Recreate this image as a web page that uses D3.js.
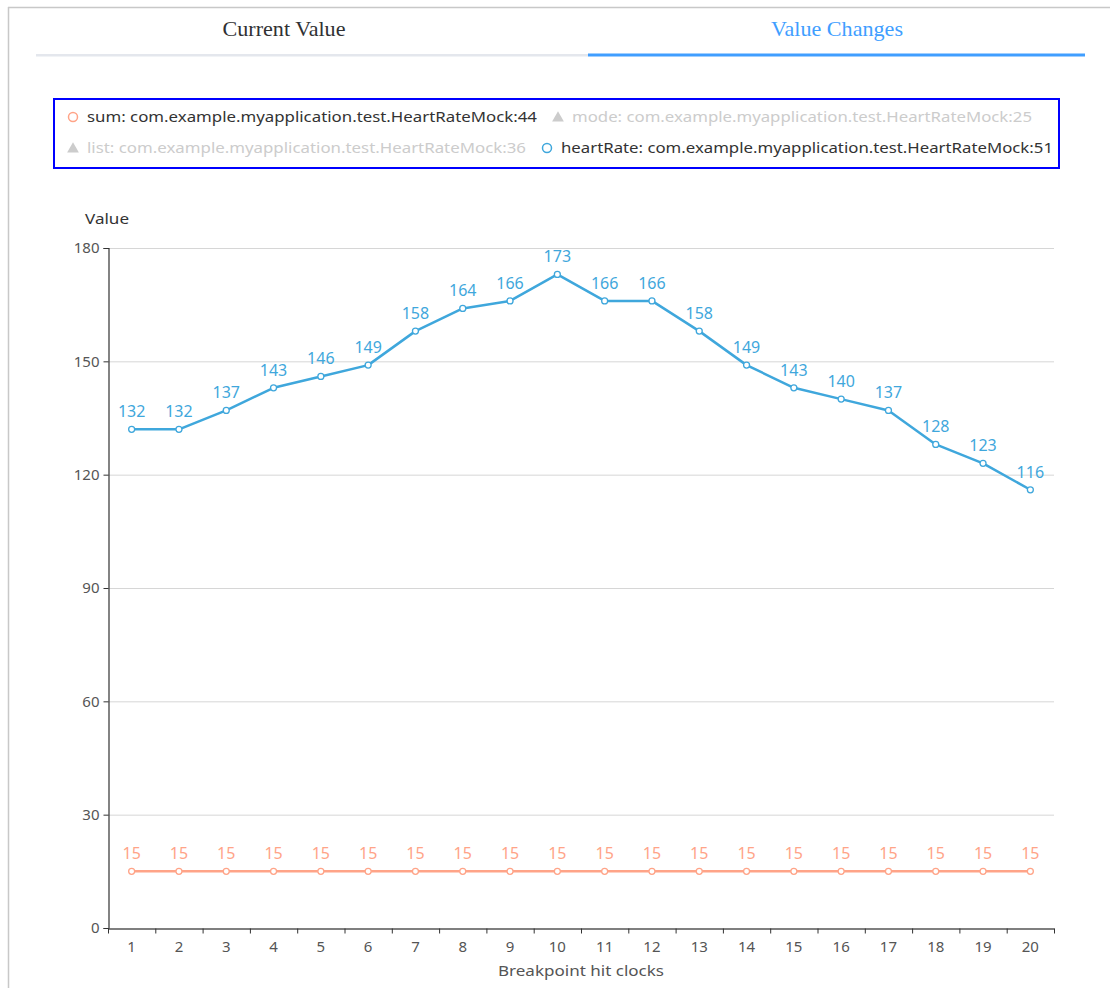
<!DOCTYPE html>
<html>
<head>
<meta charset="utf-8">
<script src="https://cdn.jsdelivr.net/npm/d3@7"></script>
<style>
  html, body { margin: 0; padding: 0; background: #fff; }
  svg { display: block; }
</style>
</head>
<body>
<svg id="chart" width="1110" height="988"></svg>
<script>
// Breakpoint hit counts along the x axis
const clocks = ["1","2","3","4","5","6","7","8","9","10","11","12","13","14","15","16","17","18","19","20"];
// Series values per hit
const heartRateValues = [132,132,137,143,146,149,158,164,166,173,166,166,158,149,143,140,137,128,123,116];
const sumValues = [15,15,15,15,15,15,15,15,15,15,15,15,15,15,15,15,15,15,15,15];
// Y axis ticks
const yTicks = [0,30,60,90,120,150,180];
// Tabs and legend entries
const tabLabels = ["Current Value", "Value Changes"];
const legendLabels = [
  "sum: com.example.myapplication.test.HeartRateMock:44",
  "mode: com.example.myapplication.test.HeartRateMock:25",
  "list: com.example.myapplication.test.HeartRateMock:36",
  "heartRate: com.example.myapplication.test.HeartRateMock:51"
];

const svg = d3.select("#chart");
const font = "'Noto Sans', 'Open Sans', sans-serif";

// panel frame (top and left edges)
svg.append("line").attr("x1", 8).attr("x2", 1110).attr("y1", 7.5).attr("y2", 7.5)
  .attr("stroke", "#c8c8c8").attr("stroke-width", 1.5);
svg.append("line").attr("x1", 8.5).attr("x2", 8.5).attr("y1", 7).attr("y2", 988)
  .attr("stroke", "#c8c8c8").attr("stroke-width", 1.5);

// tabs
svg.append("rect").attr("x", 36).attr("y", 54).attr("width", 552).attr("height", 2.5).attr("fill", "#e4e7ed");
svg.append("rect").attr("x", 588).attr("y", 53.5).attr("width", 497).attr("height", 3).attr("fill", "#409eff");
svg.append("text").attr("x", 284).attr("y", 36).attr("text-anchor", "middle")
  .attr("font-family", "'Liberation Serif', serif").attr("font-size", 21).attr("fill", "#303133")
  .attr("textLength", 123).attr("lengthAdjust", "spacingAndGlyphs")
  .text(tabLabels[0]);
svg.append("text").attr("x", 837).attr("y", 36).attr("text-anchor", "middle")
  .attr("font-family", "'Liberation Serif', serif").attr("font-size", 21).attr("fill", "#409eff")
  .attr("textLength", 132).attr("lengthAdjust", "spacingAndGlyphs")
  .text(tabLabels[1]);

// legend box
svg.append("rect").attr("x", 54).attr("y", 99).attr("width", 1005).attr("height", 69)
  .attr("fill", "none").attr("stroke", "#0000ff").attr("stroke-width", 2);

const legendItems = [
  { label: legendLabels[0], shape: "circle", color: "#ffa488", active: true, x: 73, y: 117, w: 450 },
  { label: legendLabels[1], shape: "triangle", color: "#ccc", active: false, x: 558, y: 117, w: 460 },
  { label: legendLabels[2], shape: "triangle", color: "#ccc", active: false, x: 73, y: 148, w: 439 },
  { label: legendLabels[3], shape: "circle", color: "#3fa7dc", active: true, x: 547, y: 148, w: 492 }
];
const lg = svg.append("g");
legendItems.forEach(d => {
  if (d.shape === "circle") {
    lg.append("circle").attr("cx", d.x).attr("cy", d.y).attr("r", 4.5)
      .attr("fill", "#fff").attr("stroke", d.color).attr("stroke-width", 1.5);
  } else {
    lg.append("path").attr("d", d3.symbol(d3.symbolTriangle, 60)())
      .attr("transform", `translate(${d.x},${d.y + 1})`).attr("fill", d.color);
  }
  lg.append("text").attr("x", d.x + 14).attr("y", d.y + 5)
    .attr("font-family", font).attr("font-size", 14)
    .attr("fill", d.active ? "#333" : "#ccc")
    .attr("textLength", d.w).attr("lengthAdjust", "spacingAndGlyphs")
    .text(d.label);
});

// plot area
const plotLeft = 108, plotRight = 1054, plotTop = 248, plotBottom = 928;
const x = d3.scaleBand().domain(clocks).range([plotLeft, plotRight]);
const y = d3.scaleLinear().domain([0, 180]).range([plotBottom, plotTop]);
const cx = d => x(d) + x.bandwidth() / 2;

// horizontal grid
svg.append("g").selectAll("line").data(yTicks.filter(t => t > 0)).join("line")
  .attr("x1", plotLeft).attr("x2", plotRight)
  .attr("y1", d => y(d) + 0.5).attr("y2", d => y(d) + 0.5)
  .attr("stroke", "#d6d6d6").attr("stroke-width", 1);

// y axis
const yAxis = svg.append("g").attr("transform", `translate(${plotLeft + 0.5},0)`)
  .call(d3.axisLeft(y).tickValues(yTicks).tickSize(5).tickPadding(4));
yAxis.select(".domain").attr("stroke", "#333").attr("stroke-width", 1.2);
yAxis.selectAll(".tick line").attr("stroke", "#333");
yAxis.selectAll("text").attr("font-family", font).attr("font-size", 15).attr("fill", "#555");

// x axis with ticks on band boundaries
const xAxis = svg.append("g").attr("transform", `translate(0,${plotBottom + 0.5})`)
  .call(d3.axisBottom(x).tickSize(0).tickPadding(13));
xAxis.select(".domain").attr("stroke", "#555").attr("stroke-width", 1.5);
xAxis.selectAll("text").attr("font-family", font).attr("font-size", 15).attr("fill", "#555");
const edges = clocks.map(c => x(c)).concat([plotRight]);
xAxis.append("g").selectAll("line").data(edges).join("line")
  .attr("x1", d => d + 0.5).attr("x2", d => d + 0.5).attr("y1", 0).attr("y2", 5)
  .attr("stroke", "#333").attr("stroke-width", 1);

// axis titles
svg.append("text").attr("x", 107).attr("y", 224).attr("text-anchor", "middle")
  .attr("font-family", font).attr("font-size", 15).attr("fill", "#333")
  .attr("textLength", 44).attr("lengthAdjust", "spacingAndGlyphs").text("Value");
svg.append("text").attr("x", 581).attr("y", 976).attr("text-anchor", "middle")
  .attr("font-family", font).attr("font-size", 15).attr("fill", "#555")
  .attr("textLength", 166).attr("lengthAdjust", "spacingAndGlyphs").text("Breakpoint hit clocks");

// series
const series = [
  { values: sumValues, color: "#ffa488" },
  { values: heartRateValues, color: "#3fa7dc" }
];
const line = d3.line().x((d, i) => cx(clocks[i])).y(d => y(d));
series.forEach(s => {
  const g = svg.append("g");
  g.append("path").datum(s.values).attr("d", line)
    .attr("fill", "none").attr("stroke", s.color).attr("stroke-width", 2.5).attr("stroke-linejoin", "round");
  g.selectAll("circle").data(s.values).join("circle")
    .attr("cx", (d, i) => cx(clocks[i])).attr("cy", d => y(d)).attr("r", 3)
    .attr("fill", "#fff").attr("stroke", s.color).attr("stroke-width", 1.3);
  g.selectAll("text").data(s.values).join("text")
    .attr("x", (d, i) => cx(clocks[i])).attr("y", d => y(d) - 12)
    .attr("text-anchor", "middle").attr("font-family", font).attr("font-size", 16)
    .attr("fill", s.color).text(d => d);
});
</script>
</body>
</html>
